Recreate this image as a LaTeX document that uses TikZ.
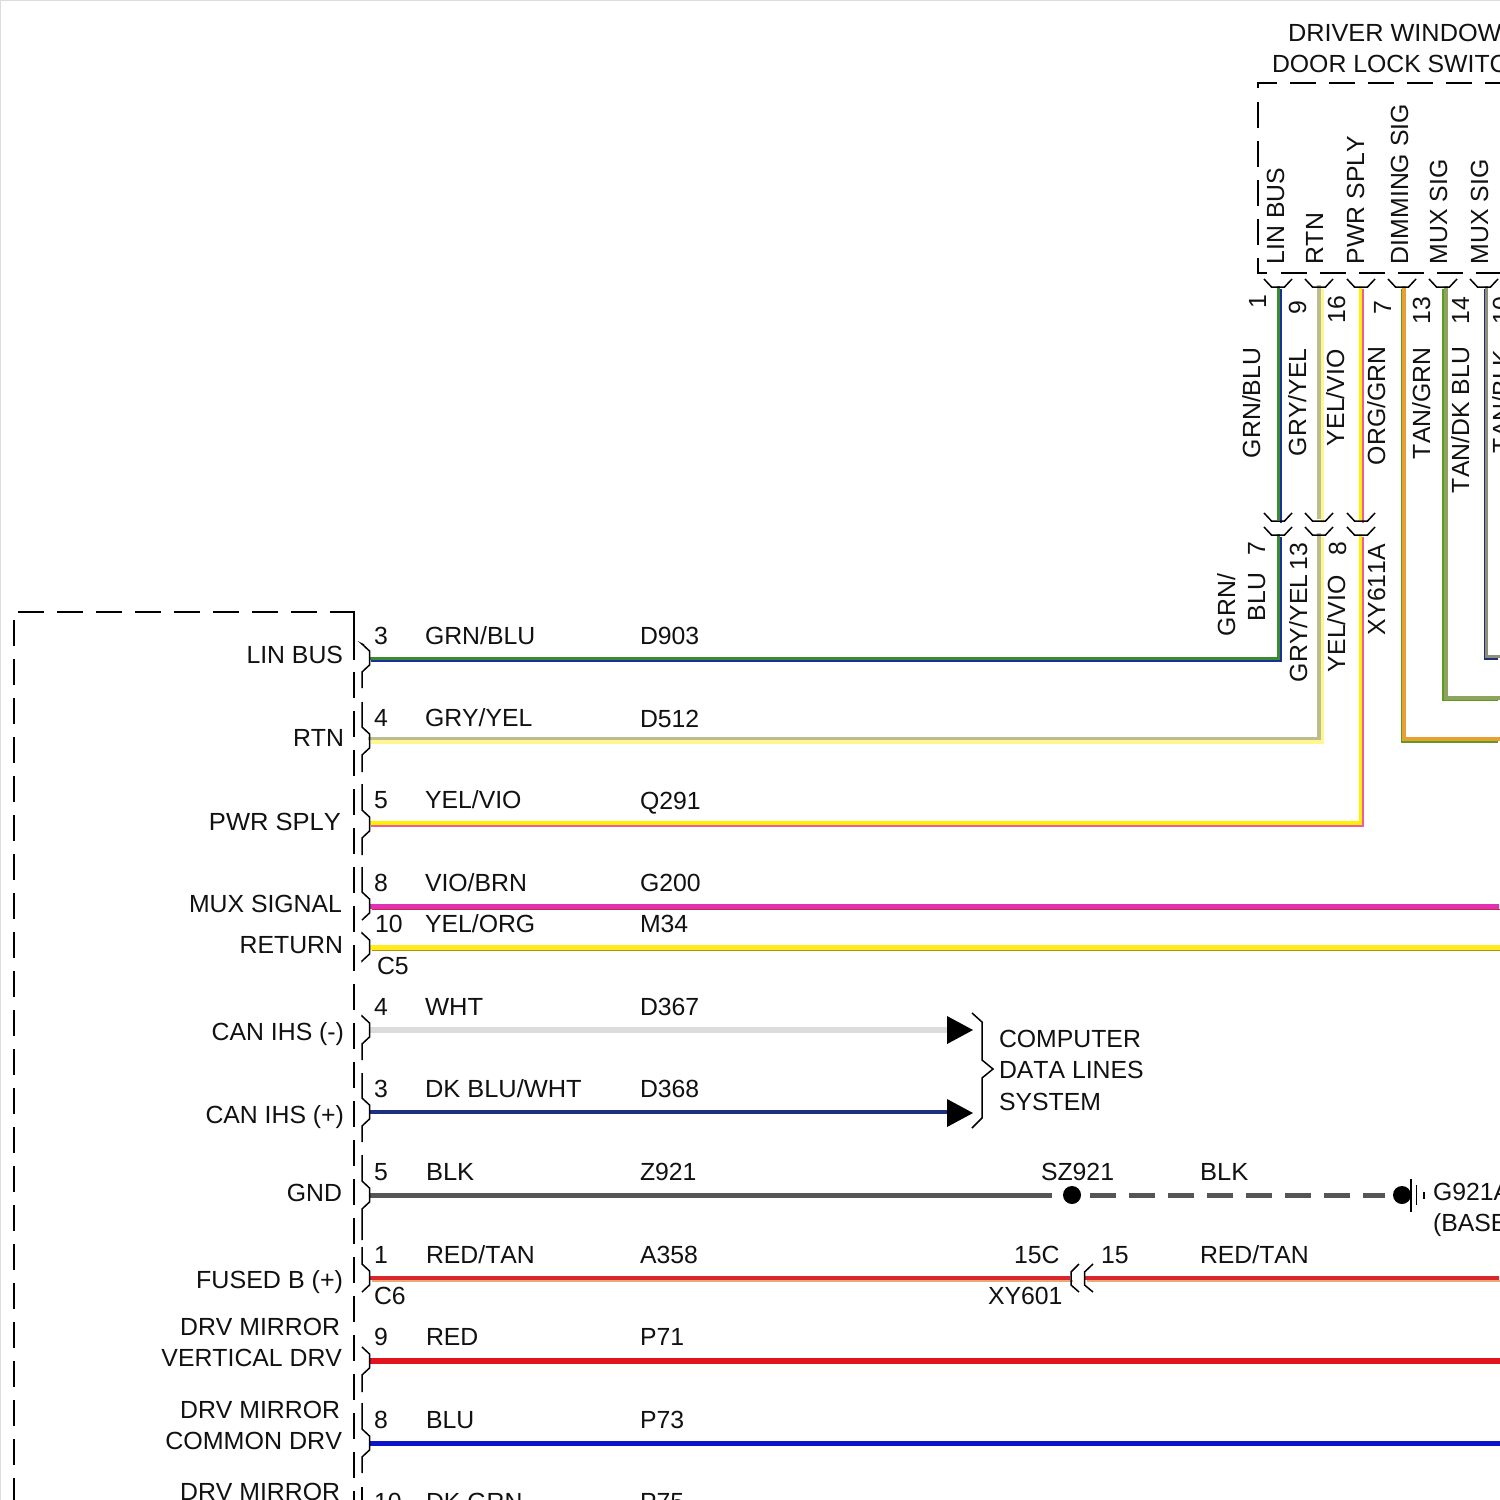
\documentclass[tikz,border=0pt]{standalone}
\usepackage{fontspec}
\usepackage{graphicx}
\setmainfont[Kerning=Off]{Liberation Sans}
\newcounter{lblno}
\newcommand{\lb}[3]{\stepcounter{lblno}\node[txt,anchor=base west] (t\thelblno) at (#1,#2) {#3};}
\newcommand{\rb}[3]{\stepcounter{lblno}\node[txt,anchor=base east] (t\thelblno) at (#1,#2) {#3};}
\newcommand{\vb}[3]{\stepcounter{lblno}\node[txt,anchor=base west,rotate=90] (t\thelblno) at (#1,#2) {#3};}
% two-tone wire: #1 path, #2 colour, #3 width, #4 colour, #5 width, offsets sign x, sign y = #6,#7
\newcommand{\wirett}[7]{%
  \pgfmathsetmacro{\dxa}{-(#6)*(#5)/2}\pgfmathsetmacro{\dya}{-(#7)*(#5)/2}%
  \pgfmathsetmacro{\dxb}{(#6)*(#3)/2}\pgfmathsetmacro{\dyb}{(#7)*(#3)/2}%
  \draw[wirebase,draw=#2,line width=#3*0.5pt,transform canvas={shift={(\dxa,\dya)}}] #1;
  \draw[wirebase,draw=#4,line width=#5*0.5pt,transform canvas={shift={(\dxb,\dyb)}}] #1;}
\newcommand{\chev}[2]{\draw[conn] (#1-14,#2-8) -- (#1-6.5,#2) -- (#1+6.5,#2) -- (#1+14,#2-8);}
\newcommand{\pinbr}[3]{\draw[conn] (#2) -- (362,#1-14) -- (369.5,#1-7) -- (369.5,#1+7) -- (362,#1+14) -- (#3);}
\definecolor{wgrn}{HTML}{3A8A2E}
\definecolor{wblu}{HTML}{1A2F9C}
\definecolor{wgry}{HTML}{BBBD90}
\definecolor{wyel}{HTML}{FFF68F}
\definecolor{wyy}{HTML}{FFF200}
\definecolor{wpnk}{HTML}{F05AA0}
\definecolor{worg}{HTML}{E8A030}
\definecolor{wlg}{HTML}{5D9C1F}
\definecolor{woli}{HTML}{8FA35E}
\definecolor{wtan}{HTML}{8F8F78}
\definecolor{wnav}{HTML}{1F2F70}
\definecolor{wmag}{HTML}{E130B4}
\definecolor{wbrn}{HTML}{C0303A}
\definecolor{wyo}{HTML}{FFEC1A}
\definecolor{wyb}{HTML}{B88A10}
\definecolor{wwht}{HTML}{DCDCDC}
\definecolor{wdk}{HTML}{1C2F80}
\definecolor{wblk}{HTML}{555555}
\definecolor{wred}{HTML}{D8262A}
\definecolor{wtr}{HTML}{E8A878}
\definecolor{wrr}{HTML}{E0141E}
\definecolor{wbb}{HTML}{0A14C8}
\definecolor{txtc}{HTML}{111111}
\tikzset{
  txt/.style={inner sep=0pt,outer sep=0pt,text=txtc,font=\fontsize{12.4}{15}\selectfont},
  wirebase/.style={line cap=butt,line join=miter},
  conn/.style={draw=black,line width=0.75pt,line join=miter},
  dashbox/.style={draw=black,line width=1pt,dash pattern=on 13pt off 6.5pt},
  solidbox/.style={draw=black,line width=1pt},
  plainwire/.style={wirebase,line width=2.9pt},
  headtip/.style={fill=black,draw=none},
  dotnode/.style={circle,fill=black,inner sep=0pt,minimum size=#1*0.5pt},
}
\begin{document}
\begin{tikzpicture}[x=0.5pt,y=-0.5pt]
\useasboundingbox (0,0) rectangle (1500,1500);
\fill[white] (0,0) rectangle (1500,1500);
\clip (0,0) rectangle (1500,1500);
\draw[wwht,line width=1pt] (0,1500) -- (0,0) -- (1500,0);

% ---- dashed module boxes
\draw[dashbox] (18,611.5) -- (354,611.5);
\draw[dashbox] (14,620) -- (14,1500);
\draw[solidbox] (353,611.5) -- (354,611.5) -- (354,660);
\draw[dashbox] (354,672) -- (354,1500);
\draw[solidbox] (1258,88) -- (1258,83) -- (1277,83);
\draw[dashbox] (1290,83) -- (1500,83);
\draw[dashbox] (1258,102) -- (1258,245);
\draw[solidbox] (1258,258) -- (1258,273) -- (1267,273);
\draw[dashbox] (1281,273) -- (1500,273);

% ---- end points
\coordinate (pA) at (369.5,659);
\coordinate (pB) at (369.5,740);
\coordinate (pC) at (369.5,824);
\coordinate (tA) at (1279,287);
\coordinate (tB) at (1320.5,287);
\coordinate (tC) at (1361.5,287);
\coordinate (tD) at (1403.5,287);
\coordinate (tE) at (1445,287);
\coordinate (tF) at (1486,287);
\coordinate (jAu) at (1279,521);
\coordinate (jAl) at (1279,535);
\coordinate (jBu) at (1320.5,521);
\coordinate (jBl) at (1320.5,535);
\coordinate (jCu) at (1361.5,521);
\coordinate (jCl) at (1361.5,535);
\coordinate (eD) at (1500,740);
\coordinate (eE) at (1500,698.7);
\coordinate (eF) at (1500,657.3);

% ---- vertical wires
\wirett{(pA) -- (pA -| jAl) -- (jAl)}{wgrn}{3.5}{wblu}{1.5}{1}{1}
\wirett{(jAu) -- (tA)}{wgrn}{3.5}{wblu}{1.5}{1}{1}
\wirett{(pB) -- (pB -| jBl) -- (jBl)}{wgry}{3.5}{wyel}{3.5}{1}{1}
\wirett{(jBu) -- (tB)}{wgry}{3.5}{wyel}{3.5}{1}{1}
\wirett{(pC) -- (pC -| jCl) -- (jCl)}{wyy}{3.5}{wpnk}{1.8}{1}{1}
\wirett{(jCu) -- (tC)}{wyy}{3.5}{wpnk}{1.8}{1}{1}
\wirett{(eD) -- (eD -| tD) -- (tD)}{worg}{4}{wlg}{1.5}{-1}{1}
\wirett{(eE) -- (eE -| tE) -- (tE)}{woli}{4}{wlg}{1.5}{-1}{1}
\wirett{(eF) -- (eF -| tF) -- (tF)}{wtan}{3.2}{wnav}{1.5}{-1}{1}

% ---- chevrons
\foreach \cx in {1278,1319,1361,1402,1443,1484} {\chev{\cx}{287}}
\foreach \cx in {1278,1319,1361} {\chev{\cx}{521}\chev{\cx}{535}}

% ---- horizontal wires
\coordinate (pG) at (369.5,907);
\coordinate (eG) at (1500,907);
\coordinate (pH) at (369.5,948);
\coordinate (eH) at (1500,948);
\wirett{(pG) -- (eG)}{wmag}{4.5}{wbrn}{1.2}{1}{1}
\wirett{(pH) -- (eH)}{wyo}{4.7}{wyb}{1}{1}{1}

\coordinate (pI) at (369.5,1030);
\coordinate (hI) at (947,1030);
\coordinate (pJ) at (369.5,1112);
\coordinate (hJ) at (947,1112);
\draw[plainwire,wwht] (pI) -- (hI);
\draw[plainwire,wdk,line width=2.4pt] (pJ) -- (hJ);
\fill[headtip] (947,1016) -- (973,1030) -- (947,1044) -- cycle;
\fill[headtip] (947,1099) -- (973,1113) -- (947,1127) -- cycle;
\draw[conn] (972,1013) -- (982,1022) -- (982,1060) -- (993,1069) -- (982,1078) -- (982,1118) -- (972,1128);

% ---- ground wire
\node[dotnode=18] (sz) at (1072,1195) {};
\node[dotnode=18] (gd) at (1402,1195) {};
\coordinate (pK) at (369.5,1195.5);
\draw[plainwire,wblk] (pK) -- (pK -| 1052,0);
\draw[plainwire,wblk,dash pattern=on 13pt off 6.5pt] (1090,1195.5) -- (1385,1195.5);
\draw[solidbox] (1410.5,1179) -- (1410.5,1212);
\draw[draw=black,line width=0.75pt] (1416.5,1185) -- (1416.5,1205);
\draw[draw=black,line width=0.75pt] (1424,1192) -- (1424,1199);

% ---- fused wire with inline connector
\coordinate (pL) at (369.5,1279);
\coordinate (xL) at (1071,1279);
\coordinate (xR) at (1085,1279);
\coordinate (eL) at (1500,1279);
\wirett{(pL) -- (xL)}{wred}{4.5}{wtr}{1.6}{1}{1}
\wirett{(xR) -- (eL)}{wred}{4.5}{wtr}{1.6}{1}{1}
\draw[conn] (1079,1264) -- (1071,1272) -- (1071,1285) -- (1079,1292);
\draw[conn] (1093,1264) -- (1084.5,1272) -- (1084.5,1285) -- (1093,1292);

\coordinate (pM) at (369.5,1361);
\coordinate (eM) at (1500,1361);
\coordinate (pN) at (369.5,1443.5);
\coordinate (eN) at (1500,1443.5);
\draw[plainwire,wrr] (pM) -- (eM);
\draw[plainwire,wbb] (pN) -- (eN);

% ---- pin brackets
\pinbr{658}{364,645}{362,688}
\pinbr{741}{362,702}{362,772}
\pinbr{824}{362,784}{362,855}
\pinbr{906}{362,867}{362,920}
\pinbr{947}{362,934}{362,960}
\pinbr{1030}{362,1017}{362,1060}
\pinbr{1112}{362,1073}{362,1142}
\pinbr{1195}{362,1155}{362,1240}
\pinbr{1278}{362,1247}{362,1292}
\pinbr{1361}{362,1347}{362,1392}
\pinbr{1443}{362,1403}{362,1473}
\draw[conn] (362,1487) -- (362,1500);

% ---- left pin names
\rb{343}{663}{LIN BUS}
\rb{344}{746}{RTN}
\rb{341}{830}{\scalebox{1.03}[1]{PWR SPLY}}
\rb{342}{912}{MUX SIGNAL}
\rb{343}{953}{RETURN}
\rb{344}{1040}{CAN IHS (-)}
\rb{344}{1123}{CAN IHS (+)}
\rb{342}{1201}{GND}
\rb{343}{1288}{\scalebox{1.01}[1]{FUSED B (+)}}
\rb{340}{1335}{DRV MIRROR}
\rb{342}{1366}{VERTICAL DRV}
\rb{340}{1418}{DRV MIRROR}
\rb{342}{1449}{\scalebox{1.01}[1]{COMMON DRV}}
\rb{340}{1500}{DRV MIRROR}

% ---- wire rows
\lb{374}{644}{3}\lb{425}{644}{GRN/BLU}\lb{640}{644}{D903}
\lb{374}{726}{4}\lb{425}{726}{GRY/YEL}\lb{640}{727}{D512}
\lb{374}{808}{5}\lb{425}{808}{YEL/VIO}\lb{640}{809}{Q291}
\lb{374}{891}{8}\lb{425}{891}{VIO/BRN}\lb{640}{891}{G200}
\lb{375}{932}{10}\lb{425}{932}{YEL/ORG}\lb{640}{932}{M34}
\lb{377}{974}{C5}
\lb{374}{1015}{4}\lb{425}{1015}{\scalebox{1.03}[1]{WHT}}\lb{640}{1015}{D367}
\lb{374}{1097}{3}\lb{425}{1097}{\scalebox{1.025}[1]{DK BLU/WHT}}\lb{640}{1097}{D368}
\lb{374}{1180}{5}\lb{426}{1180}{\scalebox{1.03}[1]{BLK}}\lb{640}{1180}{Z921}
\lb{374}{1263}{1}\lb{426}{1263}{RED/TAN}\lb{640}{1263}{A358}
\lb{374}{1304}{C6}
\lb{374}{1345}{9}\lb{426}{1345}{RED}\lb{640}{1345}{P71}
\lb{374}{1428}{8}\lb{426}{1428}{BLU}\lb{640}{1428}{P73}
\lb{374}{1510}{10}\lb{426}{1510}{DK GRN}\lb{640}{1510}{P75}

\lb{999}{1047}{COMPUTER}
\lb{999}{1078}{DATA LINES}
\lb{999}{1110}{SYSTEM}
\lb{1041}{1180}{SZ921}
\lb{1200}{1180}{\scalebox{1.03}[1]{BLK}}
\lb{1433}{1200}{G921A}
\lb{1433}{1231}{(BASE)}
\lb{1014}{1263}{15C}
\lb{1101}{1263}{15}
\lb{1200}{1263}{RED/TAN}
\lb{988}{1304}{XY601}

% ---- upper module
\lb{1288}{41}{\scalebox{1.02}[1]{DRIVER WINDOW}}
\lb{1272}{72}{DOOR LOCK SWITCH}
\vb{1284}{264}{LIN BUS}
\vb{1323}{264}{RTN}
\vb{1364}{264}{PWR SPLY}
\vb{1408}{264}{DIMMING SIG}
\vb{1447}{264}{MUX SIG}
\vb{1488}{264}{MUX SIG}
\vb{1266}{308}{1}
\vb{1306}{314}{9}
\vb{1345}{323}{16}
\vb{1391}{314}{7}
\vb{1430}{324}{13}
\vb{1469}{324}{14}
\vb{1510}{324}{10}
\vb{1260}{458}{GRN/BLU}
\vb{1306}{456}{GRY/YEL}
\vb{1344}{446}{YEL/VIO}
\vb{1385}{465}{ORG/GRN}
\vb{1430}{459}{TAN/GRN}
\vb{1469}{493}{TAN/DK BLU}
\vb{1510}{453}{TAN/BLK}
\vb{1235}{636}{GRN/}
\vb{1265}{621}{BLU}
\vb{1265}{555}{7}
\vb{1307}{682}{GRY/YEL}
\vb{1307}{570}{13}
\vb{1346}{555}{8}
\vb{1345}{672}{YEL/VIO}
\vb{1385}{635}{XY611A}
\end{tikzpicture}
\end{document}
